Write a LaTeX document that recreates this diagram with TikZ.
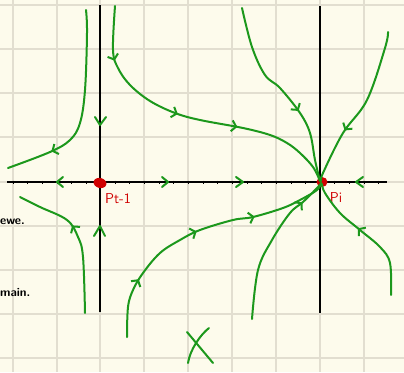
\documentclass[tikz,border=0pt]{standalone}
\usetikzlibrary{decorations.markings,arrows.meta}
\definecolor{paper}{HTML}{FDFBEC}
\definecolor{gridc}{HTML}{E2DED0}
\definecolor{pen}{HTML}{1C981C}
\definecolor{redpen}{HTML}{D00000}
\tikzset{
  flow/.style={draw=pen, line width=2pt, line cap=round, line join=round},
  chevat/.style={postaction={decorate,decoration={markings,
     mark=at position #1 with {\arrow[pen,line width=2pt]{Straight Barb[length=4.5pt,width=11pt]}}}}},
  chev/.style={draw=pen, line width=2pt, line cap=round, line join=round},
  axis/.style={draw=black, line width=2pt},
  gridline/.style={draw=gridc, line width=1.2pt},
  redlabel/.style={text=redpen, font=\sffamily\Large, inner sep=0pt},
  note/.style={text=black, font=\sffamily\bfseries\large, inner sep=0pt, anchor=west}
}
\begin{document}
\begin{tikzpicture}[x=1pt,y=-1pt]
\fill[paper] (0,0) rectangle (404,372);
\useasboundingbox (0,0) rectangle (404,372);
% grid
\foreach \gx in {13,57,100,144,188,232,276,320,364}
  \draw[gridline] (\gx,0) -- (\gx,372);
\foreach \gy in {5,49,93,137,182,226,270,314,358}
  \draw[gridline] (0,\gy) -- (404,\gy);
% axes
\draw[axis] (7,182) -- (387,182);
\draw[axis] (100,5) -- (100,312);
\draw[axis] (320,6) -- (320,313);
\foreach \tx in {13,27,42,57,71,86,115,129,144,159,173,188,203,217,232,247,261,276,291,305,334,349,364,378}
  \draw[black, line width=1pt] (\tx,180.5) -- (\tx,183.5);
% fixed points
\fill[redpen, rotate around={-15:(100,183)}] (100,183) ellipse (6.5pt and 5pt);
\fill[redpen] (322,182) ellipse (5.5pt and 5pt);
\node[redlabel] (p1) at (118,199) {Pt-1};
\node[redlabel] (p2) at (336,198) {Pi};
% axis chevrons
\draw[chev] (63,177) -- (57,182) -- (63,187);
\draw[chev] (162,177) -- (168,182) -- (162,187);
\draw[chev] (236,177) -- (243,182) -- (236,187);
\draw[chev] (363,177) -- (356,182) -- (363,187);
\draw[chev] (95,117) -- (100,125) -- (106,117);
\draw[chev] (94,236) -- (100,226) -- (105,236);
% trajectories
\draw[flow, chevat=0.77] plot[smooth, tension=0.6] coordinates {(86,10) (87,33) (85,90) (80,123) (70,140) (50,152) (8,168)};
\draw[flow, chevat=0.18, chevat=0.46, chevat=0.66] plot[smooth, tension=0.6] coordinates {(115,6) (113,50) (118,68) (130,85) (150,101) (175,113) (200,120) (243,128) (270,135) (287,143) (300,153) (313,167) (320,181)};
\draw[flow, chevat=0.62] plot[smooth, tension=0.6] coordinates {(242,8) (252,47) (265,75) (280,88) (300,113) (310,133) (315,160) (320,181)};
\draw[flow, chevat=0.66] plot[smooth, tension=0.6] coordinates {(388,32) (385,48) (367,100) (343,133) (323,173) (321,181)};
\draw[flow, chevat=0.6] plot[smooth, tension=0.6] coordinates {(85,313) (83,257) (78,237) (67,220) (40,207) (20,197)};
\draw[flow, chevat=0.22, chevat=0.5, chevat=0.72] plot[smooth, tension=0.6] coordinates {(127,337) (128,307) (133,290) (143,273) (160,253) (180,240) (200,230) (233,220) (253,217) (283,208) (300,200) (317,190) (321,183)};
\draw[flow, chevat=0.83] plot[smooth, tension=0.6] coordinates {(252,319) (258,270) (272,240) (290,213) (303,202) (318,187) (321,183)};
\draw[flow, chevat=0.58] plot[smooth, tension=0.6] coordinates {(391,295) (390,263) (380,247) (360,230) (340,213) (325,193) (322,184)};
% X mark
\draw[flow] (187,332) -- (213,363);
\draw[flow] (209,328) .. controls (200,335) and (190,350) .. (188,363);
% cut-off notes
\node[note] (n1) at (0,222) {ewe.};
\node[note] (n2) at (0,293) {main.};
\end{tikzpicture}
\end{document}
